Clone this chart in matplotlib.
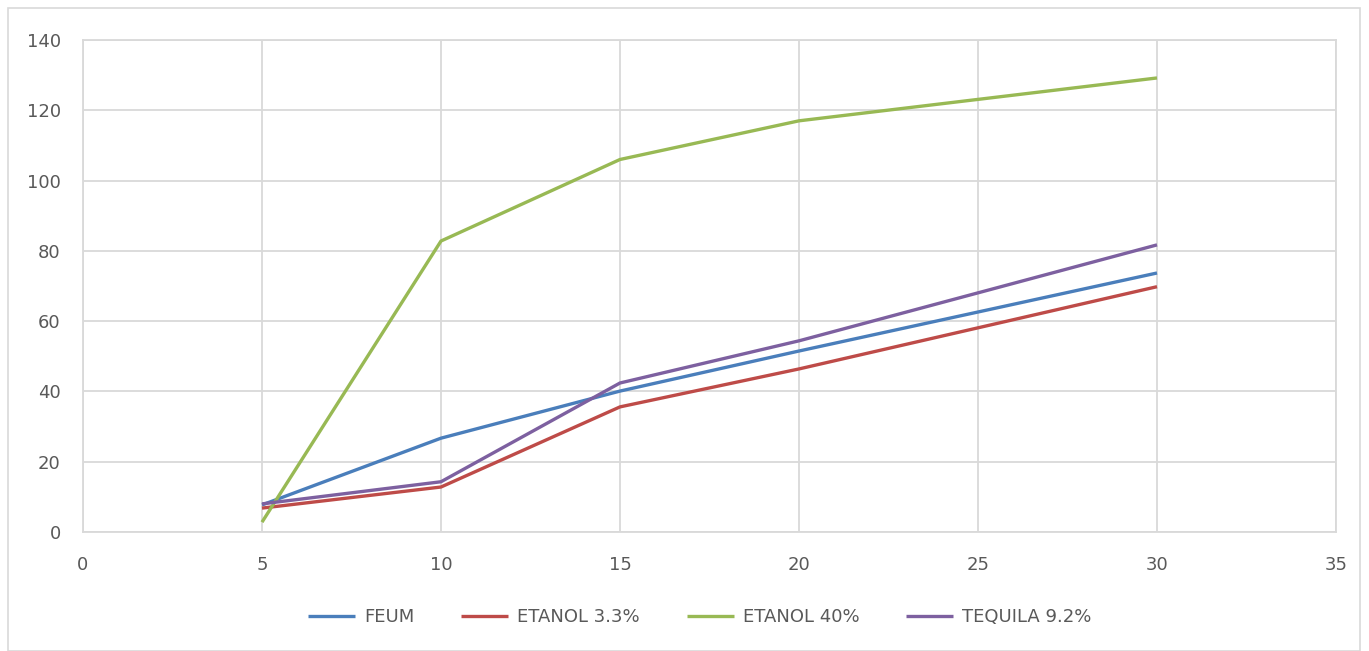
import matplotlib
matplotlib.use("Agg")
import matplotlib.pyplot as plt
from matplotlib.patches import Rectangle

# data
x_vals = [5, 10, 15, 20, 30]
feum = [7.7, 26.7, 40.1, 51.5, 73.7]
etanol_33 = [6.8, 12.8, 35.6, 46.4, 69.8]
etanol_40 = [2.8, 82.8, 106.0, 117.0, 129.2]
tequila_92 = [8.0, 14.3, 42.4, 54.4, 81.7]

series = [
    ("FEUM", feum, "#4A7EBB"),
    ("ETANOL 3.3%", etanol_33, "#BE4B48"),
    ("ETANOL 40%", etanol_40, "#98B954"),
    ("TEQUILA 9.2%", tequila_92, "#7D60A0"),
]

W, H = 1369, 651
fig = plt.figure(figsize=(W / 100, H / 100), dpi=100)
ax = fig.add_axes([83 / W, 1 - 532 / H, (1336 - 83) / W, (532 - 40) / H])

for label, ys, color in series:
    ax.plot(x_vals, ys, color=color, linewidth=2.4, label=label,
            solid_capstyle="butt")

ax.set_xlim(0, 35)
ax.set_ylim(0, 140)
ax.set_xticks(range(0, 36, 5))
ax.set_yticks(range(0, 141, 20))
ax.grid(True, color="#D9D9D9", linewidth=1.3)
ax.set_axisbelow(True)
for s in ax.spines.values():
    s.set_color("#D9D9D9")
    s.set_linewidth(1.3)
ax.tick_params(length=0, labelsize=13, labelcolor="#595959")
ax.tick_params(axis="y", pad=16)
ax.tick_params(axis="x", pad=17)

leg = fig.legend(loc="center", bbox_to_anchor=(700 / W, 1 - 617 / H),
                 ncol=4, frameon=False, fontsize=13, handlelength=2.6,
                 columnspacing=2.6, handletextpad=0.5)
for t in leg.get_texts():
    t.set_color("#595959")

fig.patches.append(Rectangle((8 / W, 0), (1360 - 8) / W, 1 - 8 / H,
                             transform=fig.transFigure, fill=False,
                             edgecolor="#D9D9D9", linewidth=1.2))

fig.savefig("out.png", dpi=100)
